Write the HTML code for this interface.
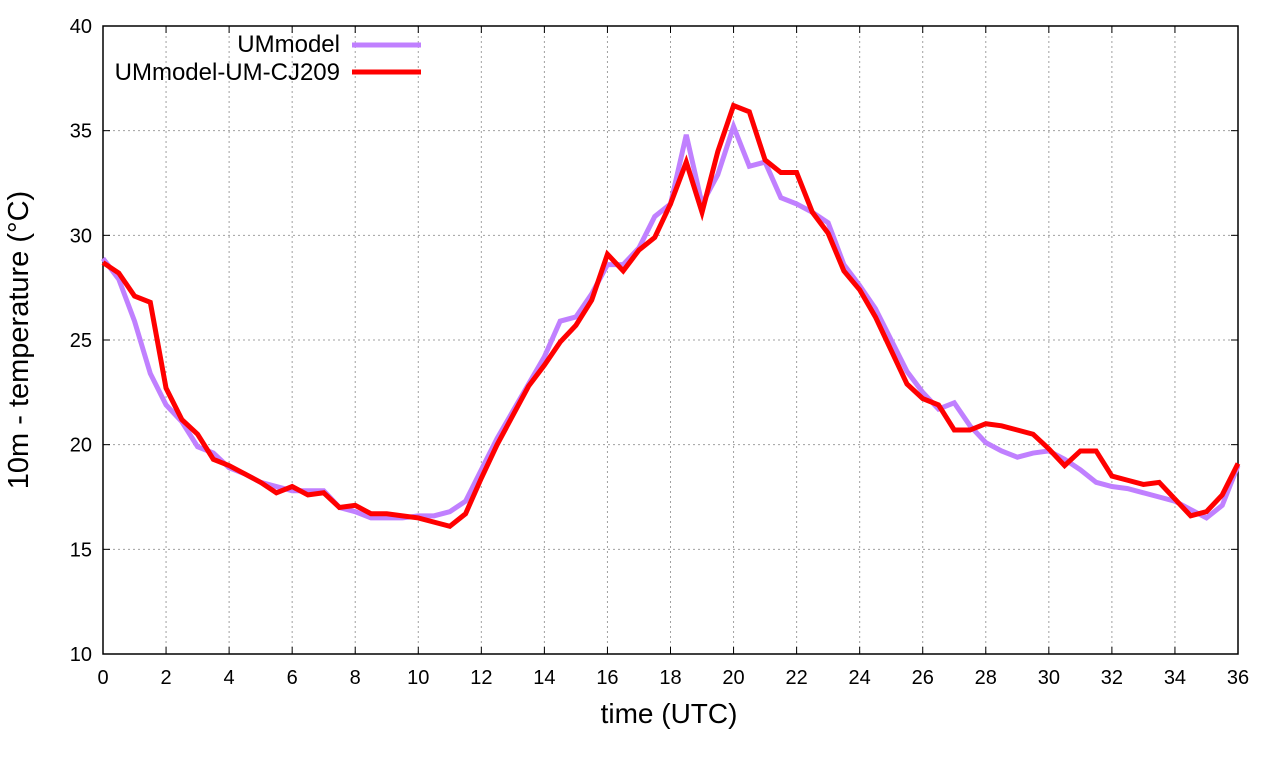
<!DOCTYPE html>
<html><head><meta charset="utf-8"><style>
html,body{margin:0;padding:0;background:#fff;}
svg text{font-family:"Liberation Sans",sans-serif;fill:#000;}
</style></head><body>
<svg id="chart" width="1280" height="760" xmlns="http://www.w3.org/2000/svg">
<g id="grid"></g>
<g id="axes"></g>
<g id="series"></g>
<text x="669" y="723" font-size="28" text-anchor="middle">time (UTC)</text>
<text transform="translate(28,340) rotate(-90)" font-size="29" text-anchor="middle">10m - temperature (°C)</text>
<g>
<text x="340" y="52" font-size="24" text-anchor="end">UMmodel</text>
<line x1="352" y1="45" x2="421" y2="45" stroke="#c080ff" stroke-width="5"/>
<text x="340" y="80" font-size="24" text-anchor="end">UMmodel-UM-CJ209</text>
<line x1="352" y1="72" x2="421" y2="72" stroke="#ff0000" stroke-width="5"/>
</g>
</svg>
<script>
const xTicks=[0,2,4,6,8,10,12,14,16,18,20,22,24,26,28,30,32,34,36];
const yTicks=[10,15,20,25,30,35,40];
const umModel=[28.9,27.9,25.9,23.4,21.9,21.1,19.9,19.6,18.9,18.6,18.2,18.0,17.8,17.8,17.8,17.0,16.8,16.5,16.5,16.5,16.6,16.6,16.8,17.3,18.8,20.3,21.6,22.9,24.2,25.9,26.1,27.2,28.6,28.6,29.4,30.9,31.5,34.8,31.5,32.9,35.2,33.3,33.5,31.8,31.5,31.1,30.6,28.6,27.6,26.5,25.0,23.5,22.5,21.7,22.0,20.9,20.1,19.7,19.4,19.6,19.7,19.3,18.8,18.2,18.0,17.9,17.7,17.5,17.3,16.9,16.5,17.1,19.0];
const umCJ209=[28.7,28.2,27.1,26.8,22.7,21.2,20.5,19.3,19.0,18.6,18.2,17.7,18.0,17.6,17.7,17.0,17.1,16.7,16.7,16.6,16.5,16.3,16.1,16.7,18.4,20.0,21.4,22.8,23.8,24.9,25.7,26.9,29.1,28.3,29.3,29.9,31.5,33.5,31.1,34.0,36.2,35.9,33.6,33.0,33.0,31.1,30.1,28.3,27.4,26.1,24.5,22.9,22.2,21.9,20.7,20.7,21.0,20.9,20.7,20.5,19.8,19.0,19.7,19.7,18.5,18.3,18.1,18.2,17.4,16.6,16.8,17.6,19.1];
const timeStep=0.5;
const L=103,R=1238,T=26,B=654,xMin=0,xMax=36,yMin=10,yMax=40;
const xs=v=>L+(v-xMin)/(xMax-xMin)*(R-L);
const ys=v=>B-(v-yMin)/(yMax-yMin)*(B-T);
const NS="http://www.w3.org/2000/svg";
function mk(tag,parent,attrs){const e=document.createElementNS(NS,tag);for(const k in attrs)e.setAttribute(k,attrs[k]);parent.appendChild(e);return e;}
const grid=document.getElementById('grid'),axes=document.getElementById('axes'),series=document.getElementById('series');
xTicks.forEach(t=>{
  const x=xs(t);
  if(t>xMin&&t<xMax){const g=mk('line',grid,{x1:x,y1:T,x2:x,y2:B,stroke:'#a0a0a0','stroke-width':1,'stroke-dasharray':'2,3'});
  
  }
  const tk=mk('line',axes,{x1:x,y1:B,x2:x,y2:B-7,stroke:'#000'});
  
  
  const tk2=mk('line',axes,{x1:x,y1:T,x2:x,y2:T+7,stroke:'#000'});
  
  
  const lb=mk('text',axes,{x:x,y:B+30,'font-size':20,'text-anchor':'middle'});lb.textContent=t;
  
  
});
yTicks.forEach(t=>{
  const y=ys(t);
  if(t>yMin&&t<yMax){const g=mk('line',grid,{x1:L,y1:y,x2:R,y2:y,stroke:'#a0a0a0','stroke-width':1,'stroke-dasharray':'2,3'});
  
  }
  const tk=mk('line',axes,{x1:L,y1:y,x2:L+7,y2:y,stroke:'#000'});
  
  
  const tk2=mk('line',axes,{x1:R,y1:y,x2:R-7,y2:y,stroke:'#000'});
  
  
  const lb=mk('text',axes,{x:L-11,y:y+7,'font-size':20,'text-anchor':'end'});lb.textContent=t;
  
  
});
const fr=mk('rect',axes,{x:L,y:T,width:R-L,height:B-T,fill:'none',stroke:'#000','stroke-width':1.5});


function line(data,color){return mk('polyline',series,{points:data.map((v,i)=>xs(i*timeStep)+','+ys(v)).join(' '),fill:'none',stroke:color,'stroke-width':5,'stroke-linejoin':'miter'});}
const p1=line(umModel,'#c080ff');


const p2=line(umCJ209,'#ff0000');


</script>
</body></html>
